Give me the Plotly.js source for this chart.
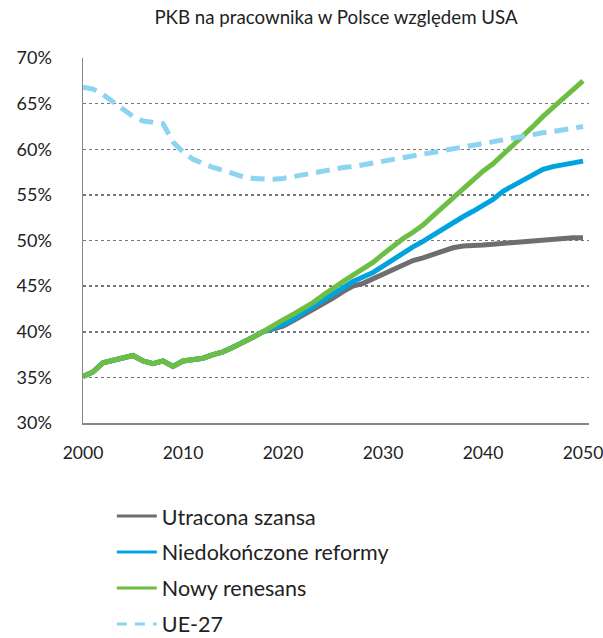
<!DOCTYPE html>
<html>
<head>
<meta charset="utf-8">
<script src="https://cdn.plot.ly/plotly-3.0.1.min.js"></script>
<style>
html,body{margin:0;padding:0;background:#fff;}
#chart{width:603px;height:638px;}
</style>
</head>
<body>
<div id="chart"></div>
<script>
const years = [];
for (let y = 2000; y <= 2050; y++) years.push(y);

const history = [35.1, 35.6, 36.6, 36.9, 37.1, 37.4, 36.8, 36.5, 36.8, 36.2,
                 36.8, 37.0, 37.1, 37.5, 37.8, 38.3, 38.8, 39.4, 40.0];

const utraconaFuture = [40.3, 40.6, 41.2, 41.8, 42.4, 43.0, 43.7, 44.4, 45.0, 45.3,
                        45.8, 46.4, 46.9, 47.4, 47.8, 48.1, 48.5, 48.9, 49.2, 49.4,
                        49.4, 49.5, 49.6, 49.7, 49.8, 49.8, 49.9, 50.0, 50.1, 50.2,
                        50.3, 50.3];
const niedokonczoneFuture = [40.4, 40.8, 41.4, 42.1, 42.8, 43.5, 44.2, 44.9, 45.5, 46.0,
                             46.5, 47.2, 47.9, 48.7, 49.3, 49.9, 50.6, 51.3, 51.9, 52.6,
                             53.2, 53.9, 54.5, 55.4, 56.0, 56.6, 57.2, 57.8, 58.1, 58.3,
                             58.5, 58.7];
const renesansFuture = [40.7, 41.3, 41.9, 42.5, 43.2, 44.0, 44.8, 45.5, 46.2, 46.9,
                        47.6, 48.5, 49.4, 50.2, 50.9, 51.7, 52.7, 53.7, 54.6, 55.6,
                        56.7, 57.6, 58.4, 59.4, 60.4, 61.5, 62.5, 63.6, 64.6, 65.5,
                        66.5, 67.5];
const ue27 = [66.8, 66.6, 66.0, 65.2, 64.3, 63.6, 63.1, 63.0, 62.8, 60.8,
              59.7, 58.9, 58.4, 58.0, 57.7, 57.3, 57.0, 56.8, 56.7, 56.7,
              56.8, 57.0, 57.3, 57.5, 57.7, 57.9, 58.0, 58.1, 58.3, 58.5,
              58.7, 58.85, 59.0, 59.2, 59.4, 59.6, 59.8, 60.0, 60.2, 60.4,
              60.6, 60.8, 61.0, 61.2, 61.4, 61.6, 61.8, 61.95, 62.1, 62.3,
              62.5];

const utracona = history.concat(utraconaFuture);
const niedokonczone = history.concat(niedokonczoneFuture);
const renesans = history.concat(renesansFuture);

const seriesNames = ['Utracona szansa', 'Niedokończone reformy', 'Nowy renesans', 'UE-27'];
const seriesColors = ['#6d6e71', '#00a3e0', '#6fbe44', '#8dd3f2'];
const yTicks = [30, 35, 40, 45, 50, 55, 60, 65, 70];
const yTickText = yTicks.map(v => v + '%');
const xTicks = [2000, 2010, 2020, 2030, 2040, 2050];

const seriesData = [utracona, niedokonczone, renesans, ue27];
const traces = [];
seriesData.forEach((d, i) => {
  traces.push({x: years, y: d, name: seriesNames[i], mode: 'lines', showlegend: false,
    line: {color: seriesColors[i], width: 5, dash: i === 3 ? '14px,8px' : 'solid'}});
});
// legend entries (thinner line samples, as in the reference legend)
seriesNames.forEach((n, i) => {
  traces.push({x: [null], y: [null], name: n, legendgroup: 'g' + i, mode: 'lines',
    line: {color: seriesColors[i], width: 3, dash: i === 3 ? '10px,8px' : 'solid'}});
});

const layout = {
  width: 603, height: 638,
  margin: {l: 83, r: 14, t: 58, b: 215, autoexpand: false},
  paper_bgcolor: '#fff', plot_bgcolor: '#fff',
  font: {family: 'Lato, "Open Sans", sans-serif', color: '#222', size: 17},
  title: {text: 'PKB na pracownika w Polsce względem USA', x: 0.5, xref: 'paper',
          y: 0.972, yref: 'container', yanchor: 'middle', font: {size: 18.7, color: '#222'}},
  showlegend: true,
  legend: {orientation: 'v', x: 0.057, xanchor: 'left', y: -0.199, yanchor: 'top',
           font: {size: 21.5, color: '#222'}, tracegroupgap: 5, itemwidth: 40,
           bgcolor: 'rgba(0,0,0,0)'},
  xaxis: {range: [2000, 2050.6], tickvals: xTicks, ticktext: xTicks.map(String),
          showgrid: false, zeroline: false, showline: true, linecolor: '#888', linewidth: 1.5,
          ticks: '', ticklabelstandoff: 13, ticklabeloverflow: 'allow',
          tickfont: {size: 17.5, color: '#222'}},
  yaxis: {range: [30, 70], tickvals: yTicks, ticktext: yTickText,
          showgrid: true, gridcolor: '#777', griddash: 'dot', gridwidth: 1.5,
          zeroline: false, showline: true, linecolor: '#888', linewidth: 1.5,
          ticks: '', ticklabelstandoff: 26, tickfont: {size: 18, color: '#222'}}
};

Plotly.newPlot('chart', traces, layout, {displayModeBar: false, staticPlot: true});
</script>
</body>
</html>
